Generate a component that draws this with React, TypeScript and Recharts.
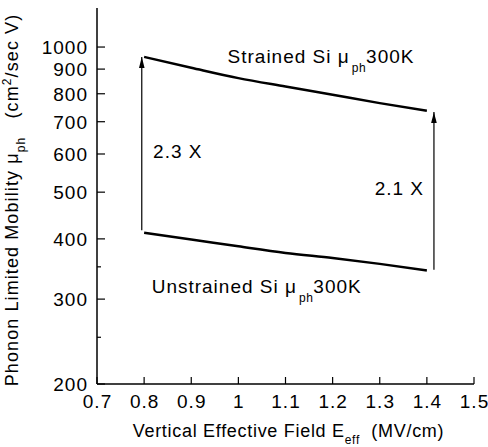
import React from 'react';
import { LineChart, Line, XAxis, YAxis, ReferenceDot } from 'recharts';

const fieldX = [0.8, 0.9, 1.0, 1.1, 1.2, 1.3, 1.4];
const strainedMob = [954, 906, 862, 828, 796, 765, 738];
const unstrainedMob = [412, 399, 386, 374, 365, 355, 344];

const xTicks = [0.7, 0.8, 0.9, 1.0, 1.1, 1.2, 1.3, 1.4, 1.5];
const yTicks = [200, 250, 300, 350, 400, 500, 600, 700, 800, 900, 1000];
const yMajor = [200, 300, 400, 500, 600, 700, 800, 900, 1000];

const arrowLeftX = [0.795, 0.795];
const arrowLeftY = [417, 954];
const arrowRightX = [1.415, 1.415];
const arrowRightY = [345, 733];

const strainedData = fieldX.map((x, i) => ({ x, v: strainedMob[i] }));
const unstrainedData = fieldX.map((x, i) => ({ x, v: unstrainedMob[i] }));
const arrowLeftData = arrowLeftX.map((x, i) => ({ x, v: arrowLeftY[i] }));
const arrowRightData = arrowRightX.map((x, i) => ({ x, v: arrowRightY[i] }));

const FONT = '"Liberation Sans", Arial, sans-serif';
const FS = 18;
const TFS = 19;
const TLS = 1;

const fmtX = (v: number) => (Math.abs(v - 1) < 1e-9 ? '1' : v.toFixed(1));

const LeftTick = (p: any) => {
  const { x, y, payload } = p;
  const major = yMajor.includes(payload.value);
  return (
    <g>
      <line x1={x} x2={x + (major ? 8 : 4)} y1={y} y2={y} stroke="#000" strokeWidth={1.2} />
      {major && (
        <text x={x - 9} y={y + 7} textAnchor="end" fontFamily={FONT} fontSize={TFS} letterSpacing={TLS} fill="#000">
          {payload.value}
        </text>
      )}
    </g>
  );
};

const RightTick = (p: any) => {
  const { x, y, payload } = p;
  const major = yMajor.includes(payload.value);
  return <line x1={x} x2={x - (major ? 8 : 4)} y1={y} y2={y} stroke="#000" strokeWidth={1.2} />;
};

const BottomTick = (p: any) => {
  const { x, y, payload } = p;
  return (
    <g>
      <line x1={x} x2={x} y1={y} y2={y - 7} stroke="#000" strokeWidth={1.2} />
      <text x={x + 0.5} y={y + 24} textAnchor="middle" fontFamily={FONT} fontSize={TFS} letterSpacing={TLS} fill="#000">
        {fmtX(payload.value)}
      </text>
    </g>
  );
};

const TopTick = (p: any) => {
  const { x, y } = p;
  return <line x1={x} x2={x} y1={y} y2={y + 7} stroke="#000" strokeWidth={1.2} />;
};

const XLabel = (p: any) => {
  const vb = p.viewBox;
  const cx = vb.x + vb.width / 2 + 3;
  const by = vb.y + 53;
  return (
    <text x={cx} y={by} textAnchor="middle" fontFamily={FONT} fontSize={FS} letterSpacing={0.7} fill="#000">
      Vertical Effective Field E
      <tspan dy={7} fontSize={12}>eff</tspan>
      <tspan dy={-7}>{'\u00a0\u00a0(MV/cm)'}</tspan>
    </text>
  );
};

const YLabel = (p: any) => {
  const vb = p.viewBox;
  const cy = vb.y + vb.height / 2 + 4;
  const bx = 18;
  return (
    <text
      x={bx}
      y={cy}
      transform={`rotate(-90, ${bx}, ${cy})`}
      textAnchor="middle"
      fontFamily={FONT}
      fontSize={FS}
      letterSpacing={1.1}
      fill="#000"
    >
      Phonon Limited Mobility μ
      <tspan dy={7} fontSize={12}>ph</tspan>
      <tspan dy={-7}>{'\u00a0\u00a0\u00a0(cm'}</tspan>
      <tspan dy={-7} fontSize={12}>2</tspan>
      <tspan dy={7}>/sec V)</tspan>
    </text>
  );
};

const mkLabel = (main: string, withSub: boolean, anchor: 'start' | 'end' = 'start') => (p: any) => (
  <text x={p.cx} y={p.cy} textAnchor={anchor} fontFamily={FONT} fontSize={19} letterSpacing={1} fill="#000">
    {main}
    {withSub && (
      <>
        <tspan dx={2} dy={9} fontSize={12} letterSpacing={0.5}>ph</tspan>
        <tspan dy={-9}>300K</tspan>
      </>
    )}
  </text>
);

const arrowDot = (p: any) => {
  if (p.index !== 1) return <g key={`d${p.index}`} />;
  const { cx, cy } = p;
  return <path key={`d${p.index}`} d={`M${cx},${cy} L${cx - 2.8},${cy + 11} L${cx + 2.8},${cy + 11} Z`} fill="#000" />;
};

export default function App() {
  return (
    <div style={{ position: 'absolute', left: 0, top: 0, background: '#fff' }}>
      <LineChart width={488} height={447} margin={{ top: 8, right: 14, left: 0, bottom: 0 }}>
        <XAxis
          dataKey="x"
          type="number"
          domain={[0.7, 1.5]}
          ticks={xTicks}
          interval={0}
          height={63}
          tickSize={0}
          tickMargin={0}
          tickLine={false}
          tick={BottomTick}
          axisLine={{ stroke: '#000', strokeWidth: 1.5 }}
          allowDataOverflow
          label={{ content: XLabel }}
        />
        <XAxis
          xAxisId="top"
          orientation="top"
          dataKey="x"
          type="number"
          domain={[0.7, 1.5]}
          ticks={xTicks}
          interval={0}
          height={0}
          tickSize={0}
          tickMargin={0}
          tickLine={false}
          tick={TopTick}
          axisLine={{ stroke: '#000', strokeWidth: 1.5 }}
          allowDataOverflow
        />
        <YAxis
          dataKey="v"
          type="number"
          scale="log"
          domain={[200, 1205]}
          ticks={yTicks}
          interval={0}
          width={97}
          tickSize={0}
          tickMargin={0}
          tickLine={false}
          tick={LeftTick}
          axisLine={{ stroke: '#000', strokeWidth: 1.5 }}
          allowDataOverflow
          label={{ content: YLabel }}
        />
        <YAxis
          yAxisId="right"
          orientation="right"
          type="number"
          scale="log"
          domain={[200, 1205]}
          ticks={yTicks}
          interval={0}
          width={0}
          tickSize={0}
          tickMargin={0}
          tickLine={false}
          tick={RightTick}
          axisLine={{ stroke: '#000', strokeWidth: 1.5 }}
          allowDataOverflow
        />
        <Line data={strainedData} dataKey="v" type="monotone" stroke="#000" strokeWidth={2.5} dot={false} isAnimationActive={false} />
        <Line data={unstrainedData} dataKey="v" type="monotone" stroke="#000" strokeWidth={2.5} dot={false} isAnimationActive={false} />
        <Line data={arrowLeftData} dataKey="v" type="linear" stroke="#000" strokeWidth={1.2} dot={arrowDot} isAnimationActive={false} />
        <Line data={arrowRightData} dataKey="v" type="linear" stroke="#000" strokeWidth={1.2} dot={arrowDot} isAnimationActive={false} />
        <ReferenceDot x={0.977} y={927} r={0} shape={mkLabel('Strained Si μ', true)} />
        <ReferenceDot x={0.816} y={309} r={0} shape={mkLabel('Unstrained Si μ', true)} />
        <ReferenceDot x={0.819} y={588} r={0} shape={mkLabel('2.3 X', false)} />
        <ReferenceDot x={1.394} y={493} r={0} shape={mkLabel('2.1 X', false, 'end')} />
      </LineChart>
    </div>
  );
}
